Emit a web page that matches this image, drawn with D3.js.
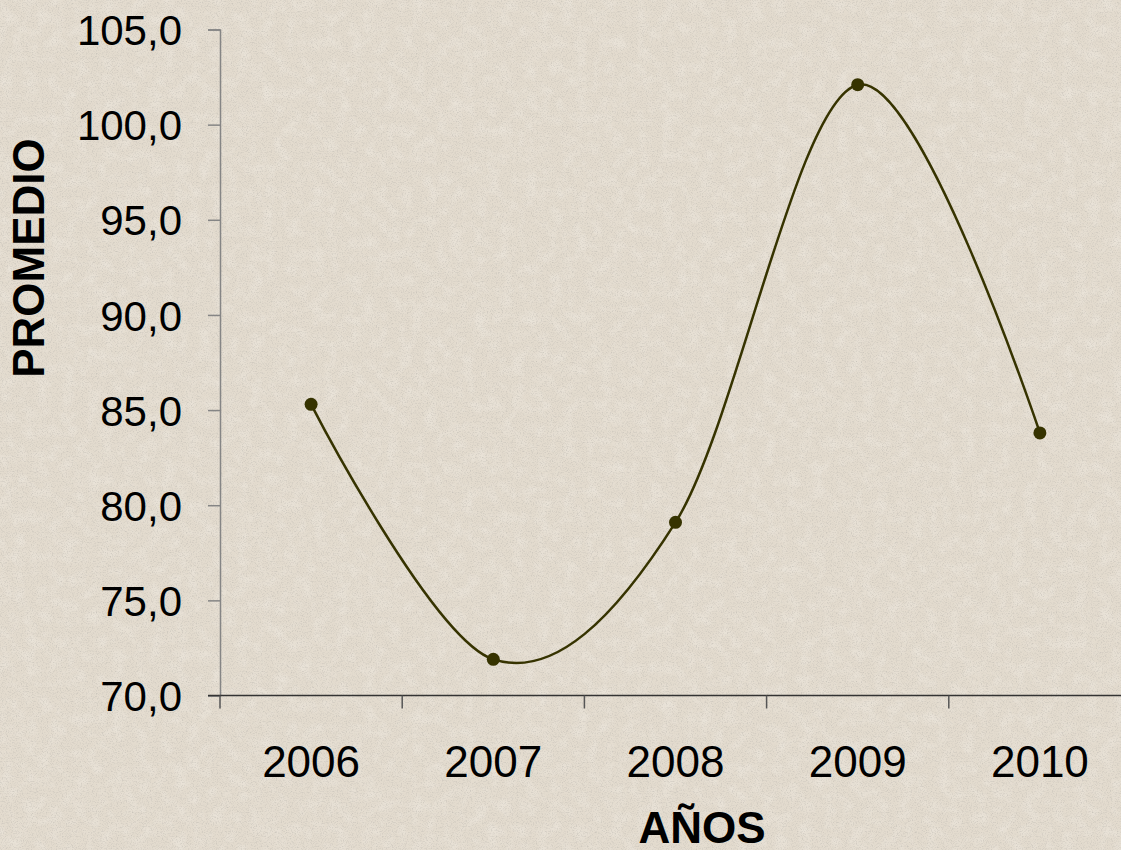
<!DOCTYPE html>
<html>
<head>
<meta charset="utf-8">
<script src="https://cdn.jsdelivr.net/npm/d3@7"></script>
<style>
  html, body { margin: 0; padding: 0; background: #e4dccf; }
  svg { display: block; }
  text { font-family: Arial, "Liberation Sans", sans-serif; fill: #000; }
</style>
</head>
<body>
<svg id="chart" width="1121" height="850"></svg>
<script>
const years = ["2006", "2007", "2008", "2009", "2010"];
const promedio = [85.3, 71.9, 79.1, 102.1, 83.8];
const yTicks = [70, 75, 80, 85, 90, 95, 100, 105];
const xTitle = "AÑOS";
const yTitle = "PROMEDIO";

(function () {
const W = 1121, H = 850;
const svg = d3.select("#chart");

// background texture
const defs = svg.append("defs");
const f = defs.append("filter").attr("id", "paper")
  .attr("x", 0).attr("y", 0).attr("width", W).attr("height", H)
  .attr("filterUnits", "userSpaceOnUse");
f.append("feTurbulence").attr("type", "fractalNoise").attr("baseFrequency", "0.8")
  .attr("numOctaves", 2).attr("seed", 7).attr("result", "n");
f.append("feColorMatrix").attr("type", "matrix")
  .attr("values", "0 0 0 0 0.55  0 0 0 0 0.52  0 0 0 0 0.47  1.8 0 0 0 -0.85");
const f2 = defs.append("filter").attr("id", "paper2")
  .attr("x", 0).attr("y", 0).attr("width", W).attr("height", H)
  .attr("filterUnits", "userSpaceOnUse");
f2.append("feTurbulence").attr("type", "fractalNoise").attr("baseFrequency", "0.08")
  .attr("numOctaves", 3).attr("seed", 3);
f2.append("feColorMatrix").attr("type", "matrix")
  .attr("values", "0 0 0 0 0.96  0 0 0 0 0.94  0 0 0 0 0.90  0.6 0 0 0 -0.25");

svg.append("rect").attr("width", W).attr("height", H).attr("fill", "#e3dbce");
svg.append("rect").attr("width", W).attr("height", H).attr("filter", "url(#paper2)");
svg.append("rect").attr("width", W).attr("height", H).attr("filter", "url(#paper)");

const left = 220, bottom = 695.5, topY = 29.5;
const x = d3.scaleBand().domain(years).range([left, left + 5 * 182.2]).padding(0);
const y = d3.scaleLinear().domain([70, 105]).range([bottom, topY]);

const locale = d3.formatLocale({ decimal: ",", thousands: ".", grouping: [3], currency: ["", ""] });
const fmt = locale.format(".1f");

// Y axis
const yAxis = d3.axisLeft(y).tickValues(yTicks).tickSize(12).tickPadding(26).tickFormat(fmt);
const gy = svg.append("g").attr("transform", `translate(${left},0)`).call(yAxis);
gy.select(".domain").attr("stroke", "#858585").attr("stroke-width", 1.5);
gy.selectAll(".tick line").attr("stroke", "#858585").attr("stroke-width", 1.5);
gy.selectAll(".tick text").attr("font-size", 42).attr("font-family", "Arial, 'Liberation Sans', sans-serif")
  .attr("fill", "#000").attr("dy", "0.36em");

// X axis (ticks at category boundaries)
const gx = svg.append("g");
gx.append("line").attr("x1", left - 12).attr("x2", W).attr("y1", bottom).attr("y2", bottom)
  .attr("stroke", "#333").attr("stroke-width", 1.5);
const bounds = years.map(d => x(d)).concat([x(years[years.length - 1]) + x.bandwidth()]);
gx.selectAll("line.tk").data(bounds).join("line").attr("class", "tk")
  .attr("x1", d => d).attr("x2", d => d).attr("y1", bottom).attr("y2", bottom + 13)
  .attr("stroke", "#555").attr("stroke-width", 1.5);
gx.selectAll("text.xl").data(years).join("text").attr("class", "xl")
  .attr("x", d => x(d) + x.bandwidth() / 2).attr("y", 777)
  .attr("text-anchor", "middle").attr("font-size", 44).text(d => d);

// Titles
svg.append("text").attr("x", 702).attr("y", 843).attr("text-anchor", "middle")
  .attr("font-size", 44).attr("font-weight", "bold").text(xTitle);
svg.append("text").attr("transform", "translate(44,258) rotate(-90)").attr("text-anchor", "middle")
  .attr("font-size", 44).attr("font-weight", "bold").text(yTitle);

// Line
const pts = years.map((d, i) => [x(d) + x.bandwidth() / 2, y(promedio[i])]);
const line = d3.line().curve(d3.curveCardinal.tension(0));
svg.append("path").attr("d", line(pts)).attr("fill", "none")
  .attr("stroke", "#363300").attr("stroke-width", 2.5);
svg.selectAll("circle.pt").data(pts).join("circle").attr("class", "pt")
  .attr("cx", d => d[0]).attr("cy", d => d[1]).attr("r", 6.5).attr("fill", "#363300");
})();
</script>
</body>
</html>
